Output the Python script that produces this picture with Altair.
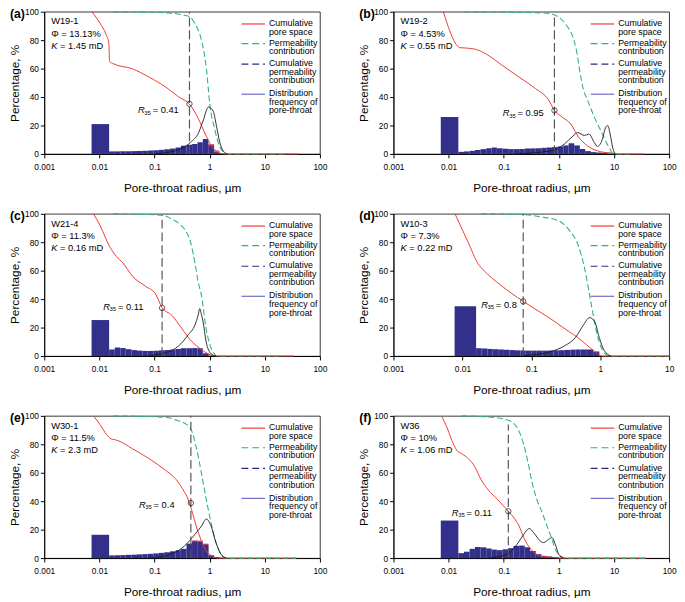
import altair as alt
import pandas as pd

FONT = "Liberation Sans"
W, H = 281, 145
NAVY = "#33308c"
RED = "#ee3a32"
GREEN = "#2fb383"
BLACK = "#1a1a1a"

# common histogram bin edges (µm)
E = [0.0072, 0.015, 0.019, 0.024, 0.03, 0.038, 0.048, 0.06, 0.075, 0.095, 0.12, 0.15, 0.19,
     0.24, 0.3, 0.38, 0.48, 0.6, 0.75, 0.95, 1.2, 1.5, 1.9, 2.4, 3.0, 3.8, 4.8, 6.0, 7.5, 9.5, 12]
E_D = [0.0077, 0.0158, 0.019, 0.023, 0.0275, 0.033, 0.04, 0.048, 0.058, 0.07, 0.083, 0.1, 0.12,
       0.145, 0.175, 0.21, 0.25, 0.3, 0.37, 0.44, 0.52, 0.64, 0.79, 0.97]

# ---- (a) W19-1
bars_a = [21, 1.8, 1.8, 1.9, 1.9, 2.0, 2.1, 2.2, 2.4, 2.6, 2.9, 3.3, 3.8, 4.5, 5.8, 6.5, 7.0, 8.3,
          10.5, 6.0, 1.2, 0.3, 0, 0, 0, 0, 0, 0, 0, 0]
rbars_a = [0] * 19 + [7.0, 2.5] + [0] * 9
red_a = [(0.0073, 100), (0.0102, 92), (0.0132, 84), (0.0148, 78), (0.0153, 65), (0.0178, 63.5),
         (0.04, 59.8), (0.08, 54), (0.16, 47), (0.276, 40), (0.43, 35), (0.62, 25), (0.83, 14),
         (1.08, 5.7), (1.43, 1), (1.9, 0), (40, 0)]
green_a = [(0.0178, 100), (0.2, 99), (0.35, 97.5), (0.43, 96.5), (0.55, 91), (0.72, 79), (0.88, 58.6),
           (1.0, 35.6), (1.24, 17), (1.5, 5.7), (1.9, 0.7), (2.2, 0), (22, 0)]
black_a = [(0.1, 0), (0.24, 2.3), (0.445, 8), (0.63, 15), (0.77, 24), (0.95, 33), (1.16, 30),
           (1.33, 19.5), (1.53, 8), (1.9, 0.7), (2.1, 0)]

# ---- (b) W19-2
bars_b = [26, 1.5, 1.8, 2.2, 2.8, 3.4, 4.0, 4.5, 4.0, 3.7, 3.4, 3.4, 3.5, 3.8, 3.9, 4.0, 4.3, 4.5,
          4.8, 5.3, 6.0, 7.5, 6.0, 3.5, 2.0, 1.3, 1.0, 0.8, 0.4, 0]
rbars_b = [0] * 30
red_b = [(0.008, 100), (0.0163, 74.7), (0.02, 74.5), (0.032, 73.4), (0.049, 70), (0.096, 62),
         (0.19, 54), (0.375, 46), (0.65, 38), (0.83, 30.6), (1.1, 26.4), (1.67, 20.7), (2.2, 12.6),
         (3.3, 5.7), (5.7, 1.6), (9.8, 0.5), (12, 0), (34, 0)]
green_b = [(0.019, 100), (0.6, 99), (1.0, 96), (1.4, 90), (1.8, 82), (2.1, 72), (2.4, 58), (2.8, 45),
           (3.3, 38), (4.5, 25), (6, 15), (8, 5), (9.8, 0), (22, 0)]
black_b = [(0.15, 0), (0.74, 2.3), (1.26, 7), (1.8, 12.6), (2.2, 15), (2.9, 13), (3.5, 14), (4.4, 8),
           (5.0, 5.3), (6.1, 10), (7.0, 18.4), (7.7, 20), (8.5, 14), (9.6, 3.4), (10.5, 0)]

# ---- (c) W21-4
bars_c = [25.3, 4.6, 6.0, 5.6, 4.8, 4.2, 3.8, 3.6, 3.6, 3.7, 4.0, 4.2, 4.5, 5.0, 5.5, 5.5, 5.6, 5.5,
          1.6, 0.4, 0, 0, 0, 0, 0, 0, 0, 0, 0, 0]
rbars_c = [0] * 18 + [2.2] + [0] * 11
red_c = [(0.0078, 100), (0.0102, 92), (0.0153, 77), (0.0203, 70), (0.0266, 65.5), (0.04, 56),
         (0.069, 49), (0.104, 43.7), (0.137, 34), (0.206, 28.7), (0.31, 19.5), (0.47, 10.3),
         (0.71, 4.6), (0.93, 1.6), (1.4, 0), (34, 0)]
green_c = [(0.0176, 100), (0.137, 99), (0.2, 96.5), (0.29, 92.5), (0.36, 88.5), (0.45, 80),
           (0.54, 65.5), (0.62, 52), (0.71, 42.5), (0.86, 19.5), (1.06, 5.7), (1.4, 0), (21.6, 0)]
black_c = [(0.069, 0), (0.157, 2.3), (0.27, 6.9), (0.41, 15), (0.54, 21.8), (0.62, 29), (0.66, 33.3),
           (0.71, 29), (0.76, 24), (0.86, 10.3), (1.06, 1.6), (1.3, 0)]

# ---- (d) W10-3  (axis 0.001-10)
bars_d = [35, 5.5, 5.3, 5.0, 4.8, 4.6, 4.4, 4.2, 4.0, 3.9, 3.8, 3.8, 3.8, 3.8, 3.9, 4.0, 4.1, 4.3,
          4.5, 4.6, 4.6, 4.6, 3.2]
rbars_d = [0] * 23
red_d = [(0.0078, 100), (0.0121, 80), (0.0168, 65), (0.0206, 60), (0.0356, 50), (0.0762, 38.4),
         (0.18, 27), (0.31, 19), (0.54, 10.8), (0.746, 5), (0.925, 1.6), (1.08, 0), (10, 0)]
green_d = [(0.0187, 100), (0.0762, 99.5), (0.13, 98), (0.251, 95), (0.347, 89), (0.481, 77.5),
           (0.597, 61), (0.70, 43), (0.822, 24.6), (0.925, 13), (1.08, 3.9), (1.27, 0.5), (1.46, 0),
           (10, 0)]
black_d = [(0.0762, 0.3), (0.18, 2.8), (0.31, 7.4), (0.437, 13), (0.573, 22), (0.70, 27), (0.822, 24.6),
           (0.969, 13), (1.14, 3.9), (1.43, 0)]

# ---- (e) W30-1
bars_e = [16.4, 1.9, 2.0, 2.1, 2.3, 2.4, 2.6, 2.8, 3.0, 3.3, 3.7, 4.1, 4.8, 5.5, 6.5, 10.2, 11.8,
          11.5, 9.5, 2.0, 0.8, 0.3, 0, 0, 0, 0, 0, 0, 0, 0]
rbars_e = [0] * 16 + [12.5, 12.3, 10.2] + [0] * 11
red_e = [(0.0078, 100), (0.0102, 94), (0.0134, 87), (0.0164, 83.8), (0.0203, 83), (0.04, 76.8),
         (0.079, 70), (0.157, 61.8), (0.237, 56), (0.33, 48), (0.41, 41), (0.47, 34), (0.57, 22.5),
         (0.71, 12), (0.87, 5), (1.13, 1.2), (1.5, 0), (37, 0)]
green_e = [(0.0176, 100), (0.157, 99), (0.27, 96.5), (0.38, 94), (0.47, 89.6), (0.57, 78),
           (0.71, 59.5), (0.87, 41), (1.06, 24.8), (1.3, 10.9), (1.6, 2.8), (1.97, 0), (37, 0)]
black_e = [(0.079, 0), (0.2, 2.8), (0.35, 8.6), (0.54, 16.7), (0.71, 22.5), (0.87, 27.5),
           (1.06, 22.5), (1.3, 10.9), (1.6, 2.8), (2.0, 0)]

# ---- (f) W36
bars_f = [26.4, 3.5, 4.5, 6.5, 7.8, 7.6, 6.8, 6.0, 5.6, 6.2, 7.0, 8.6, 8.8, 7.6, 5.0, 2.8, 1.6, 1.2,
          0.8, 0.3, 0, 0, 0, 0, 0, 0, 0, 0, 0, 0]
rbars_f = [0] * 30
red_f = [(0.0074, 100), (0.0093, 92), (0.0115, 82.6), (0.0141, 75.7), (0.0173, 73.4), (0.0227, 70),
         (0.03, 64), (0.039, 55), (0.052, 48), (0.078, 41), (0.103, 36), (0.121, 33), (0.155, 28),
         (0.19, 22.5), (0.23, 14.4), (0.31, 6.3), (0.46, 1.6), (0.8, 0.5), (1.06, 0), (39, 0)]
green_f = [(0.0173, 100), (0.059, 99), (0.103, 97.7), (0.135, 96), (0.166, 93), (0.2, 87), (0.23, 80),
           (0.27, 68.8), (0.33, 52.5), (0.4, 41), (0.5, 31.7), (0.61, 22.5), (0.75, 13), (0.86, 6.3),
           (1.06, 1.6), (1.4, 0), (39, 0)]
black_f = [(0.052, 0), (0.117, 2.8), (0.166, 8.6), (0.22, 15.5), (0.29, 20.8), (0.35, 17.8),
           (0.46, 12), (0.53, 10.9), (0.65, 13.2), (0.75, 14.4), (0.86, 9.7), (0.99, 2.8), (1.2, 0)]

# panel metadata
labels = ["(a)", "(b)", "(c)", "(d)", "(e)", "(f)"]
samples = ["W19-1", "W19-2", "W21-4", "W10-3", "W30-1", "W36"]
phis = ["13.13%", "4.53%", "11.3%", "7.3%", "11.5%", "10%"]
perms = ["1.45 mD", "0.55 mD", "0.16 mD", "0.22 mD", "2.3 mD", "1.06 mD"]
r35_text = ["0.41", "0.95", "0.11", "0.8", "0.4", "0.11"]
r35_x = [0.43, 0.83, 0.137, 0.0762, 0.456, 0.121]
r35_top = [100, 97.5, 99, 100, 100, 94]
r35_circle = [35.2, 30.6, 33.8, 38.4, 38.7, 32.9]
r35_lab_x = [0.050, 0.096, 0.0117, 0.0187, 0.052, 0.0114]
r35_lab_y = [30.6, 28.7, 34.5, 36, 37.5, 31.7]
x_ticks_full = [0.001, 0.01, 0.1, 1, 10, 100]
x_ticks_d = [0.001, 0.01, 0.1, 1, 10]

legend_entries = [
    (["Cumulative", "pore space"], RED, None),
    (["Permeability", "contribution"], GREEN, [7, 4]),
    (["Cumulative", "permeability", "contribution"], "#2e2b7a", [7, 4]),
    (["Distribution", "frequency of", "pore-throat"], "#6d69c9", None),
]
legend_y = [11.7, 31.7, 52.7, 83.3]

ONE = pd.DataFrame({"k": [0]})
yscale = alt.Scale(domain=[0, 100])
yaxis = alt.Axis(title="Percentage, %", values=[0, 20, 40, 60, 80, 100], grid=False,
                 tickSize=4, labelPadding=2, titlePadding=3, labelFontSize=8.5,
                 titleFontSize=12, titleFontWeight="normal", domainColor="black",
                 tickColor="black", labelColor="black", titleColor="black")
Y = alt.Y("y:Q", scale=yscale, axis=yaxis)


def line_df(pts):
    return pd.DataFrame({"x": [p[0] for p in pts], "y": [p[1] for p in pts],
                         "i": list(range(len(pts)))})


def bars_df(edges, heights):
    rows = [{"x": edges[k], "x2": edges[k + 1], "y": heights[k]}
            for k in range(len(heights)) if heights[k] > 0]
    return pd.DataFrame(rows)


def panel(k, edges, bars, rbars, red, green, black, ticks):
    xscale = alt.Scale(type="log", domain=[ticks[0], ticks[-1]])
    xaxis = alt.Axis(title="Pore-throat radius, µm", values=ticks,
                     labelExpr="format(datum.value, '~g')", grid=False, labelFlush=False,
                     tickSize=4, labelPadding=5, titlePadding=12, labelFontSize=8.5,
                     titleFontSize=12, titleFontWeight="normal", domainColor="black",
                     tickColor="black", labelColor="black", titleColor="black")
    X = alt.X("x:Q", scale=xscale, axis=xaxis)
    layers = []
    rb = bars_df(edges, rbars)
    if len(rb):
        layers.append(alt.Chart(rb).mark_rect(color="#e84a5f", opacity=0.9).encode(
            x=X, x2="x2:Q", y=Y, y2=alt.datum(0)))
    layers.append(alt.Chart(bars_df(edges, bars)).mark_rect(color=NAVY).encode(
        x=X, x2="x2:Q", y=Y, y2=alt.datum(0)))
    layers.append(alt.Chart(line_df(red)).mark_line(color=RED, strokeWidth=1, interpolate="monotone").encode(
        x=X, y=Y, order="i:Q"))
    layers.append(alt.Chart(line_df(green)).mark_line(color=GREEN, strokeWidth=1.1, strokeDash=[6, 3],
                                                      interpolate="monotone").encode(x=X, y=Y, order="i:Q"))
    layers.append(alt.Chart(line_df(black)).mark_line(color=BLACK, strokeWidth=0.9, interpolate="monotone").encode(
        x=X, y=Y, order="i:Q"))
    rdf = pd.DataFrame({"x": [r35_x[k]], "y": [0], "y2": [r35_top[k]]})
    layers.append(alt.Chart(rdf).mark_rule(color="#555555", strokeWidth=1.2, strokeDash=[9, 4]).encode(
        x=X, y=Y, y2="y2:Q"))
    cdf = pd.DataFrame({"x": [r35_x[k]], "y": [r35_circle[k]]})
    layers.append(alt.Chart(cdf).mark_point(shape="circle", filled=False, size=30, color="black",
                                            strokeWidth=0.9).encode(x=X, y=Y))
    ldf = pd.DataFrame({"x": [r35_lab_x[k]], "y": [r35_lab_y[k]]})
    layers.append(alt.Chart(ldf).mark_text(text="R", fontStyle="italic", fontSize=9.5, align="left",
                                           baseline="middle", color="black").encode(x=X, y=Y))
    layers.append(alt.Chart(ldf).mark_text(text="35", fontSize=6, align="left", baseline="middle",
                                           dx=6.5, dy=2.5, color="black").encode(x=X, y=Y))
    layers.append(alt.Chart(ldf).mark_text(text="= " + r35_text[k], fontSize=9.5, align="left",
                                           baseline="middle", dx=15, color="black").encode(x=X, y=Y))
    # sample annotation
    layers.append(alt.Chart(ONE).mark_text(text=samples[k], fontSize=9.5, align="left", baseline="middle",
                                           color="black").encode(x=alt.value(7), y=alt.value(10)))
    layers.append(alt.Chart(ONE).mark_text(text="Φ = " + phis[k], fontSize=9.5, align="left",
                                           baseline="middle", color="black").encode(x=alt.value(7), y=alt.value(22.5)))
    layers.append(alt.Chart(ONE).mark_text(text="K", fontSize=9.5, fontStyle="italic", align="left",
                                           baseline="middle", color="black").encode(x=alt.value(7), y=alt.value(35)))
    layers.append(alt.Chart(ONE).mark_text(text="= " + perms[k], fontSize=9.5, align="left",
                                           baseline="middle", color="black").encode(x=alt.value(16), y=alt.value(35)))
    # legend
    for (lines, col, dash), ly in zip(legend_entries, legend_y):
        kw = {"color": col, "strokeWidth": 1.2}
        if dash:
            kw["strokeDash"] = dash
        layers.append(alt.Chart(ONE).mark_rule(**kw).encode(
            x=alt.value(201), x2=alt.value(225), y=alt.value(ly + 0.8)))
        for j, t in enumerate(lines):
            layers.append(alt.Chart(ONE).mark_text(text=t, fontSize=9, align="left", baseline="middle",
                                                   color="black").encode(
                x=alt.value(229), y=alt.value(ly + j * 8.7)))
    # panel label
    layers.append(alt.Chart(ONE).mark_text(text=labels[k], fontSize=12.5, fontWeight="bold", align="left",
                                           baseline="middle", color="black").encode(
        x=alt.value(-35), y=alt.value(2)))
    return alt.layer(*layers).properties(width=W, height=H)


pa = panel(0, E, bars_a, rbars_a, red_a, green_a, black_a, x_ticks_full)
pb = panel(1, E, bars_b, rbars_b, red_b, green_b, black_b, x_ticks_full)
pc = panel(2, E, bars_c, rbars_c, red_c, green_c, black_c, x_ticks_full)
pd_ = panel(3, E_D, bars_d, rbars_d, red_d, green_d, black_d, x_ticks_d)
pe = panel(4, E, bars_e, rbars_e, red_e, green_e, black_e, x_ticks_full)
pf = panel(5, E, bars_f, rbars_f, red_f, green_f, black_f, x_ticks_full)

chart = alt.vconcat(
    alt.hconcat(pa, pb, spacing=30),
    alt.hconcat(pc, pd_, spacing=30),
    alt.hconcat(pe, pf, spacing=30),
    spacing=15,
).properties(padding={"left": 0, "top": -7, "right": 0, "bottom": 0}).configure(
    font=FONT
).configure_view(stroke="black", strokeWidth=0.8)

chart.save("out.html", embed_options={"renderer": "svg", "actions": False})
